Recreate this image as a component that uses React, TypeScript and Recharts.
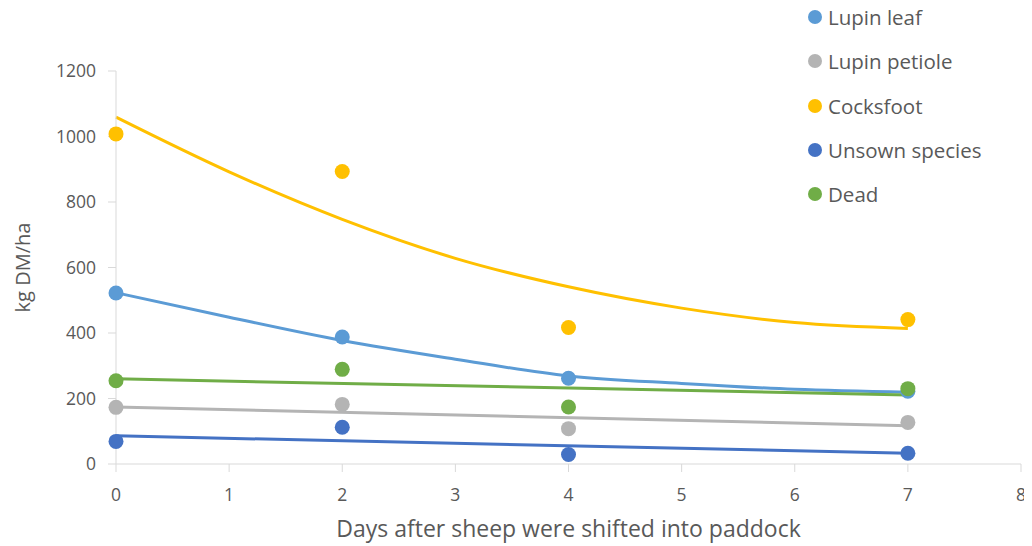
import {
  ComposedChart,
  Scatter,
  Line,
  XAxis,
  YAxis,
  Legend,
} from "recharts";

// measured points (days after shift)
const days = [0, 2, 4, 7];
const lupinLeaf = [522, 388, 262, 222];
const lupinPetiole = [173, 182, 108, 127];
const cocksfoot = [1008, 893, 417, 441];
const unsown = [69, 112, 29, 33];
const dead = [254, 289, 174, 230];

// trend lines
const curveDays = [0, 1, 2, 3, 4, 5, 6, 7];
const cocksfootTrend = [1059, 892, 747, 628, 541, 476, 432, 414];
const lupinLeafTrend = [523, 448, 377, 320, 269, 246, 228, 219];
const lineDays = [0, 7];
const deadTrend = [260, 211];
const petioleTrend = [174, 117];
const unsownTrend = [86, 33];

const xTicks = [0, 1, 2, 3, 4, 5, 6, 7, 8];
const yTicks = [0, 200, 400, 600, 800, 1000, 1200];

const font = "'Open Sans', 'Noto Sans', sans-serif";
const textColor = "#595959";
const axisColor = "#d9d9d9";

const toPoints = (xs: number[], ys: number[]) =>
  xs.map((x, i) => ({ x, y: ys[i] }));

const series = [
  { name: "Lupin leaf", color: "#5b9bd5", values: lupinLeaf },
  { name: "Lupin petiole", color: "#b4b4b4", values: lupinPetiole },
  { name: "Cocksfoot", color: "#ffc000", values: cocksfoot },
  { name: "Unsown species", color: "#4472c4", values: unsown },
  { name: "Dead", color: "#70ad47", values: dead },
];

const trends = [
  { key: "cf", color: "#ffc000", xs: curveDays, ys: cocksfootTrend },
  { key: "ll", color: "#5b9bd5", xs: curveDays, ys: lupinLeafTrend },
  { key: "dd", color: "#70ad47", xs: lineDays, ys: deadTrend },
  { key: "lp", color: "#b4b4b4", xs: lineDays, ys: petioleTrend },
  { key: "us", color: "#4472c4", xs: lineDays, ys: unsownTrend },
];

function SideLegend() {
  return (
    <div style={{ fontFamily: font, fontSize: 20.5, color: textColor }}>
      {series.map((s) => (
        <div
          key={s.name}
          style={{ height: 44.3, display: "flex", alignItems: "center" }}
        >
          <span
            style={{
              width: 14,
              height: 14,
              borderRadius: 7,
              background: s.color,
              marginRight: 6,
              flex: "none",
            }}
          />
          {s.name}
        </div>
      ))}
    </div>
  );
}

function YTitle(props: any) {
  const vb = props.viewBox || {};
  const cy = vb.y + vb.height / 2;
  return (
    <text
      x={14}
      y={cy}
      transform={`rotate(-90, 14, ${cy})`}
      textAnchor="middle"
      dominantBaseline="central"
      fill={textColor}
      fontSize={20}
      fontFamily={font}
    >
      kg DM/ha
    </text>
  );
}

export default function App() {
  const tick = { fill: textColor, fontSize: 17.5, fontFamily: font };
  return (
    <ComposedChart
      width={1024}
      height={538}
      margin={{ top: 63, right: 11, bottom: 0, left: 0 }}
    >
      <XAxis
        type="number"
        dataKey="x"
        domain={[0, 8]}
        ticks={xTicks}
        interval={0}
        tick={tick}
        stroke={axisColor}
        tickSize={8}
        tickMargin={17}
        height={82}
        label={{
          value: "Days after sheep were shifted into paddock",
          position: "insideBottom",
          offset: 9,
          fill: textColor,
          fontSize: 23,
          fontFamily: font,
        }}
      />
      <YAxis
        type="number"
        dataKey="y"
        domain={[0, 1200]}
        ticks={yTicks}
        interval={0}
        tick={tick}
        stroke={axisColor}
        tickSize={8}
        tickMargin={12}
        width={108}
        label={<YTitle />}
      />
      <Legend
        layout="horizontal"
        verticalAlign="middle"
        align="center"
        content={() => <SideLegend />}
        wrapperStyle={{ top: -13, left: 800, width: 224, height: 222 }}
      />
      {series.map((s) => (
        <Scatter
          key={s.name}
          name={s.name}
          data={toPoints(days, s.values)}
          fill={s.color}
          shape={(p: any) => (
            <circle cx={p.cx} cy={p.cy} r={7.5} fill={s.color} />
          )}
          isAnimationActive={false}
        />
      ))}
      {trends.map((t) => (
        <Line
          key={t.key}
          data={toPoints(t.xs, t.ys)}
          dataKey="y"
          type="monotone"
          stroke={t.color}
          strokeWidth={3}
          dot={false}
          activeDot={false}
          legendType="none"
          isAnimationActive={false}
        />
      ))}
    </ComposedChart>
  );
}
